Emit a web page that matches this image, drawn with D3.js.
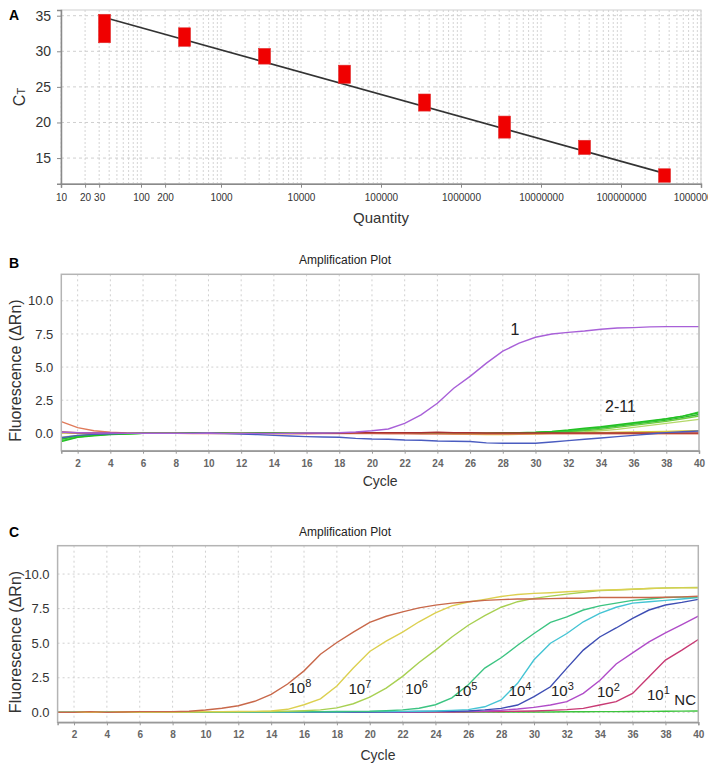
<!DOCTYPE html>
<html><head><meta charset="utf-8">
<script src="https://cdn.jsdelivr.net/npm/d3@7"></script>
<style>
html,body{margin:0;padding:0;background:#fff;}
text{font-family:"Liberation Sans",Arial,sans-serif;}
</style></head>
<body><svg id="c" width="708" height="765"></svg>
<script>
// ---------- Panel A data ----------
const quantities = [35, 350, 3500, 35000, 350000, 3500000, 35000000, 350000000];
const ctMin = [31.2, 30.7, 28.2, 25.5, 21.6, 17.8, 15.5, 11.6];
const ctMax = [35.2, 33.3, 30.4, 28.05, 24.0, 20.9, 17.5, 13.5];
const fitQuantity = [35, 350000000];
const fitCt = [34.75, 12.85];
const aYTicks = [15, 20, 25, 30, 35];
const aXTicks = [10, 20, 30, 100, 200, 1000, 10000, 100000, 1000000, 10000000, 100000000, 1000000000];

// ---------- Panel B / C data ----------
const cycles = [1,2,3,4,5,6,7,8,9,10,11,12,13,14,15,16,17,18,19,20,21,22,23,24,25,26,27,28,29,30,31,32,33,34,35,36,37,38,39,40];
const cycleTicks = [2,4,6,8,10,12,14,16,18,20,22,24,26,28,30,32,34,36,38,40];
const fluoTicks = [0, 2.5, 5, 7.5, 10];

const bSample1   = [0.08,0.05,0.03,0.02,0,0,0,0,0,0.02,0,0,0,0,0,0.02,0.03,0.05,0.1,0.2,0.33,0.75,1.4,2.27,3.4,4.3,5.3,6.2,6.8,7.25,7.5,7.62,7.72,7.85,7.95,7.98,8.03,8.05,8.05,8.05];
const bBlue      = [-0.33,-0.15,-0.08,-0.03,0,0,0,0,0,0,-0.02,-0.05,-0.1,-0.15,-0.2,-0.25,-0.28,-0.3,-0.38,-0.43,-0.45,-0.5,-0.52,-0.58,-0.6,-0.62,-0.72,-0.75,-0.75,-0.75,-0.65,-0.55,-0.45,-0.35,-0.25,-0.15,-0.05,0.05,0.12,0.18];
const bGreen1    = [-0.63,-0.3,-0.18,-0.1,-0.05,0,0,0,0.02,0.05,0.02,0,0.02,0.03,0,0,0,0,0,0,0,0,0,0,0,0,0,0.02,0.04,0.08,0.15,0.25,0.38,0.5,0.65,0.8,0.95,1.1,1.3,1.55];
const bGreen2    = [-0.55,-0.28,-0.15,-0.08,-0.03,0,0,0,0,0.03,0,0,0.03,0.02,0,0,0,0,0,0,0,0,0,0,0,0,0,0.02,0.03,0.06,0.12,0.2,0.32,0.45,0.6,0.75,0.9,1.08,1.3,1.62];
const bGreen3    = [-0.45,-0.22,-0.12,-0.06,-0.02,0,0,0,0,0.02,0,0,0.02,0,0,0,0,0,0,0,0,0,0,0,0,0,0,0,0.02,0.04,0.1,0.18,0.28,0.4,0.55,0.7,0.85,1.0,1.2,1.42];
const bGreen4    = [-0.38,-0.2,-0.1,-0.05,-0.02,0,0,0,0,0.02,0,0,0,0,0,0,0,0,0,0,0,0,0,0,0,0,0,0,0,0.02,0.06,0.12,0.2,0.3,0.45,0.6,0.75,0.9,1.1,1.3];
const bGreen5    = [-0.3,-0.15,-0.08,-0.04,0,0,0,0,0,0,0,0,0,0,0,0,0,0,0,0,0,0,0,0,0,0,0,0,0,0,0.02,0.05,0.1,0.2,0.3,0.45,0.6,0.75,0.9,1.05];
const bYellow    = [0.02,0,0,0,0,0,0,0,0,0,0,0,0,0,0,0,0,0,0,0,0,0,0,0,-0.05,-0.08,-0.1,-0.1,-0.08,-0.05,0,0,0.02,0.05,0.08,0.1,0.12,0.15,0.18,0.2];
const bRed       = [0.88,0.43,0.2,0.08,0.02,0,0,0,-0.02,-0.02,-0.02,-0.02,-0.03,-0.03,-0.03,-0.03,-0.02,-0.02,-0.02,-0.02,-0.03,-0.03,-0.05,-0.05,-0.05,-0.05,-0.05,-0.05,-0.05,-0.03,-0.03,-0.03,-0.03,-0.03,-0.03,-0.03,-0.03,-0.03,-0.03,-0.03];
const bDarkRed   = [0.1,0.05,0.03,0.02,0,0,0,0,0,0,0,0,0,0,0,0,0,0,0.05,0.05,0.05,0.05,0.05,0.08,0.05,0.05,0.03,0.02,0.02,0.03,0.03,0.03,0.02,0.02,0.02,0.02,0.02,0.02,0.02,0.02];
const bSeries = [bYellow, bGreen5, bGreen4, bGreen3, bGreen2, bGreen1, bRed, bDarkRed, bBlue, bSample1];
const bColors = ["#d8c838", "#b4d86a", "#6ccc3a", "#2eb82e", "#44d044", "#22c022", "#e07a5a", "#a83030", "#4a5cc0", "#a860d8"];
const bLabels = ["1", "2-11"];
const bLabelCycle = [28.75, 35.2];
const bLabelValue = [7.42, 1.63];

const c1e8 = [0,0,0.05,0,0.03,0.05,0.05,0.05,0.08,0.17,0.3,0.48,0.8,1.3,2.05,3.0,4.2,5.05,5.8,6.5,6.95,7.27,7.55,7.75,7.9,8.0,8.1,8.15,8.2,8.2,8.22,8.25,8.25,8.3,8.3,8.3,8.3,8.32,8.35,8.4];
const c1e7 = [0,0,0.03,0,0.02,0.03,0.03,0.03,0.04,0.05,0.05,0.06,0.07,0.1,0.22,0.55,0.98,1.9,3.2,4.4,5.15,5.8,6.55,7.2,7.7,7.98,8.17,8.38,8.52,8.6,8.65,8.72,8.78,8.84,8.86,8.9,8.95,8.98,9.0,9.0];
const c1e6 = [0,0,0.02,0,0.02,0.02,0.02,0.02,0.03,0.04,0.04,0.05,0.05,0.06,0.08,0.12,0.18,0.32,0.62,1.1,1.75,2.6,3.6,4.5,5.45,6.3,7.0,7.6,8.0,8.24,8.4,8.55,8.68,8.8,8.85,8.9,8.95,9.0,9.02,9.03];
const c1e5 = [0,0,0.02,0,0.02,0.02,0.02,0.02,0.02,0.03,0.03,0.03,0.04,0.04,0.05,0.05,0.05,0.06,0.07,0.08,0.12,0.18,0.3,0.55,1.05,2.0,3.2,3.95,4.85,5.7,6.5,6.9,7.4,7.7,7.9,8.1,8.2,8.3,8.33,8.36];
const c1e4 = [0,0,0.02,0,0.01,0.01,0.01,0.02,0.02,0.02,0.02,0.03,0.03,0.03,0.03,0.04,0.04,0.04,0.05,0.05,0.06,0.07,0.08,0.1,0.14,0.2,0.4,0.9,2.1,3.8,5.0,5.7,6.55,7.15,7.6,7.9,8.0,8.1,8.2,8.3];
const c1e3 = [0,0,0.01,0,0.01,0.01,0.01,0.01,0.01,0.01,0.02,0.02,0.02,0.02,0.02,0.02,0.03,0.03,0.03,0.03,0.04,0.05,0.06,0.07,0.08,0.1,0.18,0.29,0.53,1.13,1.85,3.2,4.5,5.45,6.1,6.8,7.4,7.76,7.95,8.17];
const c1e2 = [0,0,0.01,0,0.01,0.01,0.01,0.01,0.01,0.01,0.01,0.01,0.01,0.01,0.02,0.02,0.02,0.02,0.02,0.02,0.03,0.03,0.04,0.05,0.06,0.08,0.1,0.15,0.24,0.36,0.53,0.77,1.37,2.3,3.5,4.3,5.1,5.75,6.35,6.96];
const c1e1 = [0,0,0,0,0,0,0,0.01,0.01,0.01,0.01,0.01,0.01,0.01,0.01,0.01,0.01,0.01,0.02,0.02,0.02,0.02,0.02,0.03,0.03,0.04,0.05,0.06,0.08,0.1,0.14,0.2,0.29,0.53,0.77,1.37,2.58,3.78,4.5,5.27];
const cNC  = [0,0,0.02,0,0.01,0.01,0.01,0.01,0.01,0.01,0.01,0.01,0.01,0.01,0.01,0.01,0.01,0.01,0.01,0.01,0.01,0.01,0.01,0.02,0.02,0.02,0.02,0.02,0.03,0.03,0.03,0.04,0.04,0.05,0.05,0.06,0.07,0.08,0.09,0.1];
const cSeries = [cNC, c1e1, c1e2, c1e3, c1e4, c1e5, c1e6, c1e7, c1e8];
const cColors = ["#3cc43c", "#c83a74", "#b04cc8", "#3e4eb4", "#44c4d4", "#3cc482", "#a8d052", "#dcd050", "#c8684a"];
const cLabelExp = ["8","7","6","5","4","3","2","1"];
const cLabelCycle = [15.75, 19.4, 22.85, 25.86, 29.15, 31.73, 34.53, 37.57];
const cLabelValue = [1.42, 1.32, 1.32, 1.2, 1.2, 1.2, 1.13, 0.89];
const ncLabelCycle = 39.2, ncLabelValue = 0.53;

// ---------- Drawing ----------
const svg = d3.select("#c");
svg.append("rect").attr("width",708).attr("height",765).attr("fill","#fff");

// ===== Panel A =====
const xA = d3.scaleLog().domain([10, 1e9]).range([61, 701]);
const yA = d3.scaleLinear().domain([11.4, 35.8]).range([183.7, 10]);
const gA = svg.append("g");
gA.selectAll(".vg").data(xA.ticks()).enter().append("line")
  .attr("x1", d=>xA(d)).attr("x2", d=>xA(d)).attr("y1", yA.range()[1]).attr("y2", yA.range()[0])
  .attr("stroke", "#d4d4d4").attr("stroke-dasharray", "2,2").attr("stroke-width", 1);
gA.selectAll(".hg").data(aYTicks).enter().append("line")
  .attr("x1", xA.range()[0]).attr("x2", xA.range()[1]).attr("y1", d=>yA(d)).attr("y2", d=>yA(d))
  .attr("stroke", "#cfcfcf").attr("stroke-dasharray", "3,3");
gA.append("rect").attr("x", xA.range()[0]).attr("y", yA.range()[1])
  .attr("width", xA.range()[1]-xA.range()[0]).attr("height", yA.range()[0]-yA.range()[1])
  .attr("fill","none").attr("stroke","#cfcfcf");
const axA_x = gA.append("g").attr("transform", `translate(0,${yA.range()[0]})`)
  .call(d3.axisBottom(xA).tickValues(aXTicks).tickFormat(d3.format("d")).tickSize(4).tickPadding(6));
const axA_y = gA.append("g").attr("transform", `translate(${xA.range()[0]},0)`)
  .call(d3.axisLeft(yA).tickValues(aYTicks).tickSize(4).tickPadding(6));
[axA_x, axA_y].forEach(a=>{ a.select(".domain").attr("stroke","#8a8a8a").attr("stroke-width",1.5); a.selectAll(".tick line").attr("stroke","#8a8a8a"); });
axA_x.selectAll("text").attr("font-size", 10).attr("fill","#333");
axA_y.selectAll("text").attr("font-size", 14).attr("fill","#333");
gA.append("path").datum(fitQuantity.map((q,i)=>[q, fitCt[i]]))
  .attr("d", d3.line().x(d=>xA(d[0])).y(d=>yA(d[1])))
  .attr("stroke","#333").attr("stroke-width",1.6).attr("fill","none");
gA.selectAll(".pt").data(quantities).enter().append("rect")
  .attr("x", d=>xA(d)-6).attr("width", 12)
  .attr("y", (d,i)=>yA(ctMax[i])).attr("height", (d,i)=>yA(ctMin[i])-yA(ctMax[i]))
  .attr("fill","#f00000").attr("stroke","#e03030").attr("stroke-width",0.6);
gA.append("text").attr("x", 9).attr("y", 20).attr("font-size", 14).attr("font-weight","bold").text("A");
const ctT = gA.append("text").attr("transform","translate(25,97) rotate(-90)").attr("text-anchor","middle")
  .attr("font-size",16).attr("fill","#333");
ctT.append("tspan").text("C");
ctT.append("tspan").attr("font-size",11).text("T");
gA.append("text").attr("x", 381).attr("y", 223).attr("text-anchor","middle").attr("font-size",15).attr("fill","#333").text("Quantity");

// ===== Amplification plot helper =====
function ampPanel(opt){
  const g = svg.append("g");
  const x = d3.scaleLinear().domain([1,40]).range(opt.xr);
  const y = d3.scaleLinear().domain(opt.yd).range(opt.yr);
  g.selectAll(".vg").data(cycleTicks.slice(0,-1)).enter().append("line")
    .attr("x1", d=>x(d)).attr("x2", d=>x(d)).attr("y1", opt.yr[1]).attr("y2", opt.yr[0])
    .attr("stroke","#d0d0d0").attr("stroke-dasharray","2,3");
  g.selectAll(".hg").data(fluoTicks).enter().append("line")
    .attr("x1", opt.xr[0]).attr("x2", opt.xr[1]).attr("y1", d=>y(d)).attr("y2", d=>y(d))
    .attr("stroke","#d0d0d0").attr("stroke-dasharray","2,3");
  const line = d3.line().x((d,i)=>x(cycles[i])).y(d=>y(d));
  opt.series.forEach((s,i)=>{
    g.append("path").datum(s).attr("d", line).attr("fill","none")
      .attr("stroke", opt.colors[i]).attr("stroke-width",1.4);
  });
  g.append("rect").attr("x",opt.xr[0]).attr("y",opt.yr[1]).attr("width",opt.xr[1]-opt.xr[0]).attr("height",opt.yr[0]-opt.yr[1])
    .attr("fill","none").attr("stroke","#b4b4b4").attr("stroke-width",1.5);
  const ax = g.append("g").attr("transform",`translate(0,${opt.yr[0]})`)
    .call(d3.axisBottom(x).tickValues(cycleTicks).tickSize(3).tickPadding(6));
  ax.select(".domain").attr("stroke","#999").attr("stroke-width",1.5);
  ax.selectAll(".tick line").attr("stroke","#999");
  ax.selectAll("text").attr("font-size",10).attr("font-weight","bold").attr("fill","#666");
  const ay = g.append("g").attr("transform",`translate(${opt.xr[0]},0)`)
    .call(d3.axisLeft(y).tickValues(fluoTicks).tickFormat(d3.format(".1f")).tickSize(0).tickPadding(8));
  ay.select(".domain").remove();
  ay.selectAll("text").attr("font-size",13).attr("fill","#333");
  g.append("text").attr("x",9).attr("y",opt.letterY).attr("font-size",14).attr("font-weight","bold").text(opt.letter);
  g.append("text").attr("x",345).attr("y",opt.titleY).attr("text-anchor","middle").attr("font-size",12).attr("fill","#222").text("Amplification Plot");
  g.append("text").attr("x",(opt.xr[0]+opt.xr[1])/2).attr("y",opt.cycleY).attr("text-anchor","middle").attr("font-size",14).attr("fill","#333").text("Cycle");
  g.append("text").attr("transform",`translate(21,${(opt.yr[0]+opt.yr[1])/2+8}) rotate(-90)`).attr("text-anchor","middle")
    .attr("font-size",16).attr("fill","#333").text("Fluorescence (ΔRn)");
  return {g,x,y};
}

const B = ampPanel({xr:[61.3,699], yr:[450.7,274.3], yd:[-1.31,12.0], series:bSeries, colors:bColors,
  letter:"B", letterY:268, titleY:264, cycleY:486});
B.g.selectAll(".lab").data(bLabels).enter().append("text")
  .attr("x",(d,i)=>B.x(bLabelCycle[i])).attr("y",(d,i)=>B.y(bLabelValue[i]))
  .attr("text-anchor","middle").attr("font-size",16).attr("fill","#222").text(d=>d);

const C = ampPanel({xr:[57.6,698.3], yr:[722.3,545.7], yd:[-0.72,12.05], series:cSeries, colors:cColors,
  letter:"C", letterY:537, titleY:536, cycleY:760});
cLabelExp.forEach((e,i)=>{
  const t = C.g.append("text").attr("x",C.x(cLabelCycle[i])).attr("y",C.y(cLabelValue[i]))
    .attr("text-anchor","middle").attr("font-size",15).attr("fill","#222");
  t.append("tspan").text("10");
  t.append("tspan").attr("font-size",11).attr("dy",-6).text(e);
});
C.g.append("text").attr("x",C.x(ncLabelCycle)).attr("y",C.y(ncLabelValue)).attr("text-anchor","middle")
  .attr("font-size",15).attr("fill","#222").text("NC");
</script></body></html>
